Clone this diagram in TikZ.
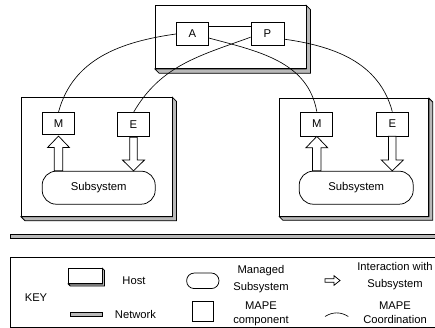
\documentclass[tikz,border=0pt]{standalone}
\usepackage{fontspec}
\setmainfont{Liberation Sans}
\usetikzlibrary{backgrounds,calc}
\tikzset{
  ln/.style={line width=0.75pt,draw=black},
  hostbox/.style={ln,fill=white,anchor=north west,inner sep=0pt},
  mape/.style={ln,fill=white,minimum width=32pt,minimum height=23pt,inner sep=0pt,font=\fontsize{11.3}{12}\selectfont},
  subsys/.style={ln,fill=white,rounded corners=14pt,minimum width=113pt,minimum height=33pt,inner sep=0pt,font=\fontsize{11.3}{12}\selectfont},
  coord/.style={line width=0.65pt},
  blk/.style={ln,fill=white,line join=miter},
  shadowfill/.style={ln,fill=gray!55},
  lbl/.style={font=\fontsize{11.2}{12}\selectfont,inner sep=0pt,align=center},
}
\newcommand\hostshadow[2]{%
  \begin{scope}[on background layer]
  \path[shadowfill] (#1.north east) -- ++(#2pt,-#2pt) -- ([shift={(#2pt,-#2pt)}]#1.south east)
     -- ([shift={(#2pt,-#2pt)}]#1.south west) -- (#1.south west) -- (#1.south east) -- cycle;
  \end{scope}}
\newcommand\uparr[2]{%
  \draw[blk] let \p1=(#1), \p2=(#2) in
   (\x1-4.3pt,\y1) -- (\x1-4.3pt,\y2-11.5pt) -- (\x1-11pt,\y2-11.5pt) -- (\x1,\y2)
   -- (\x1+11pt,\y2-11.5pt) -- (\x1+4.3pt,\y2-11.5pt) -- (\x1+4.3pt,\y1) -- cycle;}
\newcommand\downarr[2]{%
  \draw[blk] let \p1=(#1), \p2=(#2) in
   (\x1-3.8pt,\y1) -- (\x1-3.8pt,\y2+10.8pt) -- (\x1-11pt,\y2+10.8pt) -- (\x1,\y2)
   -- (\x1+11pt,\y2+10.8pt) -- (\x1+3.8pt,\y2+10.8pt) -- (\x1+3.8pt,\y1) -- cycle;}
\begin{document}
\begin{tikzpicture}[x=1pt,y=-1pt]
\useasboundingbox (0,0) rectangle (435,328);
% hosts
\node[hostbox,minimum width=150.5pt,minimum height=63pt] (top) at (155,5.3) {};
\hostshadow{top}{4.3}
\node[hostbox,minimum width=150.7pt,minimum height=118.7pt] (hl) at (21,97.3) {};
\hostshadow{hl}{4}
\node[hostbox,minimum width=149pt,minimum height=117.7pt] (hr) at (279.3,98.3) {};
\hostshadow{hr}{3.6}
% MAPE components
\node[mape] (A) at (192.3,33.7) {A};
\node[mape,minimum width=33pt] (P) at (267.5,33.7) {P};
\node[mape,minimum height=22pt] (M1) at (58.5,123.5) {M};
\node[mape,minimum height=24pt] (E1) at (133.5,124.8) {E};
\node[mape,minimum height=24pt] (M2) at (316.8,124) {M};
\node[mape,minimum height=24pt] (E2) at (392.3,124) {E};
% subsystems
\node[subsys] (S1) at (98.7,187.7) {Subsystem};
\node[subsys,minimum width=114pt] (S2) at (356.2,187.7) {Subsystem};
% coordination
\draw[coord] (A.east |- 0,26.7) -- (P.west |- 0,26.7);
\draw[coord] ([yshift=-0.3pt]A.west) to[out=188,in=75] (M1.north);
\draw[coord] ([yshift=-4.3pt]A.east) to[out=-15,in=100] (M2.north);
\draw[coord] ([yshift=-3.5pt]P.west) to[out=200,in=60] (E1.north);
\draw[coord] ([yshift=-5.5pt]P.east) to[out=-8,in=105] (E2.north);
% interaction arrows
\coordinate (u1) at (M1.south |- S1.north);
\coordinate (u2) at (M2.south |- S2.north);
\coordinate (d1) at (E1.south |- S1.north);
\coordinate (d2) at (E2.south |- S2.north);
\uparr{u1}{[yshift=-1.2pt]M1.south}
\uparr{u2}{M2.south}
\downarr{E1.south}{d1}
\downarr{E2.south}{d2}
% network
\node[ln,fill=gray!55,anchor=north west,minimum width=440pt,minimum height=4.3pt,inner sep=0pt] (net) at (10,234) {};
% key
\node[ln,anchor=north west,minimum width=440pt,minimum height=69.5pt,inner sep=0pt] (key) at (10,257.3) {};
\node[lbl] (keyt) at (36,297.5) {KEY};
\node[hostbox,minimum width=33.4pt,minimum height=15pt] (kh) at (68.3,268.3) {};
\hostshadow{kh}{2}
\node[lbl] (kht) at (134,280.5) {Host};
\node[ln,fill=gray!55,anchor=north west,minimum width=31.7pt,minimum height=3.5pt,inner sep=0pt] (kn) at (70,312.3) {};
\node[lbl] (knt) at (135.5,314.5) {Network};
\node[ln,rounded corners=7.5pt,minimum width=32.3pt,minimum height=15.5pt,inner sep=0pt] (ks) at (202.8,280.8) {};
\node[lbl,font=\fontsize{11.2}{16.5}\selectfont] (kst) at (261,279) {Managed\\Subsystem};
\node[ln,minimum width=20.6pt,minimum height=20pt,inner sep=0pt] (kc) at (203,311.7) {};
\node[lbl,font=\fontsize{11.2}{14}\selectfont] (kct) at (261,313.5) {MAPE\\component};
\coordinate (ka0) at (325,280.5);
\coordinate (ka1) at (340,280.5);
\draw[blk] let \p1=(ka0), \p2=(ka1) in
  (\x1,\y1+1.8pt) -- (\x2-6pt,\y1+1.8pt) -- (\x2-6pt,\y1+4.8pt) -- (\x2,\y1) -- (\x2-6pt,\y1-4.8pt)
  -- (\x2-6pt,\y1-1.8pt) -- (\x1,\y1-1.8pt) -- cycle;
\node[lbl,font=\fontsize{11.2}{16.5}\selectfont] (kat) at (395,276) {Interaction with\\Subsystem};
\coordinate (kc0) at (325,316.5);
\coordinate (kc1) at (348.3,316.5);
\draw[coord] (kc0) to[out=32,in=148] (kc1);
\node[lbl,font=\fontsize{11.2}{14}\selectfont] (kcot) at (395,312.5) {MAPE\\Coordination};
\end{tikzpicture}
\end{document}
